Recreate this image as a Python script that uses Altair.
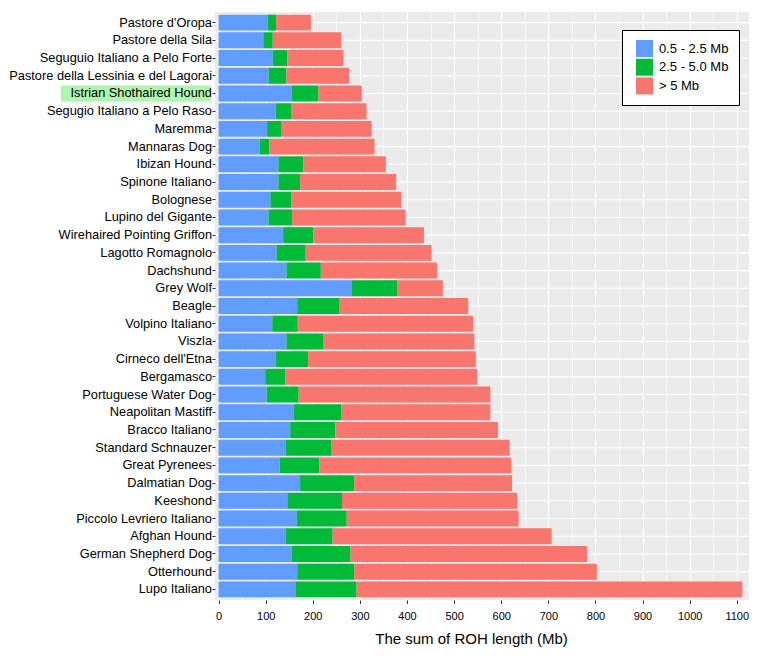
import altair as alt
import pandas as pd

breeds = [
    "Pastore d'Oropa", "Pastore della Sila", "Seguguio Italiano a Pelo Forte",
    "Pastore della Lessinia e del Lagorai", "Istrian Shothaired Hound",
    "Segugio Italiano a Pelo Raso", "Maremma", "Mannaras Dog", "Ibizan Hound",
    "Spinone Italiano", "Bolognese", "Lupino del Gigante",
    "Wirehaired Pointing Griffon", "Lagotto Romagnolo", "Dachshund", "Grey Wolf",
    "Beagle", "Volpino Italiano", "Viszla", "Cirneco dell'Etna", "Bergamasco",
    "Portuguese Water Dog", "Neapolitan Mastiff", "Bracco Italiano",
    "Standard Schnauzer", "Great Pyrenees", "Dalmatian Dog", "Keeshond",
    "Piccolo Levriero Italiano", "Afghan Hound", "German Shepherd Dog",
    "Otterhound", "Lupo Italiano",
]
roh_short = [104, 95, 115, 106, 155, 121, 103, 87, 127, 127, 110, 106, 137, 123,
             144, 282, 167, 114, 144, 122, 99, 102, 159, 152, 142, 130, 173, 146,
             166, 142, 155, 167, 163]
roh_mid = [18, 20, 31, 38, 57, 34, 31, 21, 53, 46, 44, 50, 64, 62, 73, 97, 90, 54,
           79, 68, 43, 68, 102, 96, 98, 84, 115, 116, 106, 100, 125, 121, 130]
roh_long = [74, 145, 119, 133, 92, 159, 191, 223, 175, 204, 234, 241, 235, 267,
            247, 97, 273, 372, 320, 356, 407, 407, 316, 345, 378, 407, 335, 372,
            365, 465, 502, 515, 819]
classes = ["0.5 - 2.5 Mb", "2.5 - 5.0 Mb", "> 5 Mb"]
class_colors = ["#619CFF", "#00BA38", "#F8766D"]
x_ticks = list(range(0, 1101, 50))
highlighted = ["Istrian Shothaired Hound"]
x_title = "The sum of ROH length (Mb)"

rows = []
for b, s, m, l in zip(breeds, roh_short, roh_mid, roh_long):
    for k, (cls, v) in enumerate(zip(classes, (s, m, l))):
        rows.append({"breed": b, "cls": cls, "k": k, "value": v})
df = pd.DataFrame(rows)

FONT = "Liberation Sans"
major = "datum.value % 100 === 0"

y_enc = alt.Y(
    "breed:N", sort=breeds,
    scale=alt.Scale(paddingInner=0.1, paddingOuter=0.15),
    axis=alt.Axis(title=None, labelFontSize=12.8, labelColor="black", labelFont=FONT,
                  tickSize=3, tickColor="#333333", labelPadding=0.5, domain=False,
                  grid=False, zindex=1, labelLimit=400),
)

grid_y = alt.Chart(pd.DataFrame({"breed": breeds})).mark_rule(
    color="white", strokeWidth=1.1
).encode(y=y_enc)

bars = alt.Chart(df).mark_bar().encode(
    x=alt.X(
        "value:Q", stack="zero",
        scale=alt.Scale(domain=[-7.6, 1126], nice=False, zero=False),
        axis=alt.Axis(
            values=x_ticks, title=x_title, format="d",
            labelExpr=f"{major} ? datum.label : ''",
            gridColor="white",
            gridWidth={"condition": {"test": major, "value": 1.1}, "value": 0.55},
            tickOpacity={"condition": {"test": major, "value": 1}, "value": 0},
            tickColor="#333333", tickSize=3.5, labelPadding=6.5,
            labelFontSize=11, labelColor="black", labelFont=FONT,
            titleFontSize=15, titleFontWeight="normal", titleColor="black",
            titleFont=FONT, titlePadding=10, titleX=256, domain=False,
        ),
    ),
    y=y_enc,
    color=alt.Color(
        "cls:N",
        scale=alt.Scale(domain=classes, range=class_colors),
        legend=alt.Legend(
            title=None, orient="none", legendX=407, legendY=18,
            fillColor="white", strokeColor="black", padding=10,
            symbolType="square", symbolSize=289, symbolStrokeWidth=0,
            symbolOffset=4, labelOffset=6, rowPadding=1.7,
            labelFontSize=13, labelFont=FONT, labelColor="black",
        ),
    ),
    order=alt.Order("k:Q"),
)

hl = alt.Chart(pd.DataFrame({"breed": highlighted})).mark_rect(
    color="#aef5ae"
).encode(y=y_enc, x=alt.value(-154), x2=alt.value(-4))

chart = (
    alt.layer(grid_y, bars, hl)
    .properties(width=534, height=588,
                padding={"left": 0, "top": 4, "right": 5, "bottom": 5})
    .configure(font=FONT, background="white")
    .configure_view(fill="#EBEBEB", strokeWidth=0)
)

chart.save("out.html", embed_options={"renderer": "svg", "actions": False})
